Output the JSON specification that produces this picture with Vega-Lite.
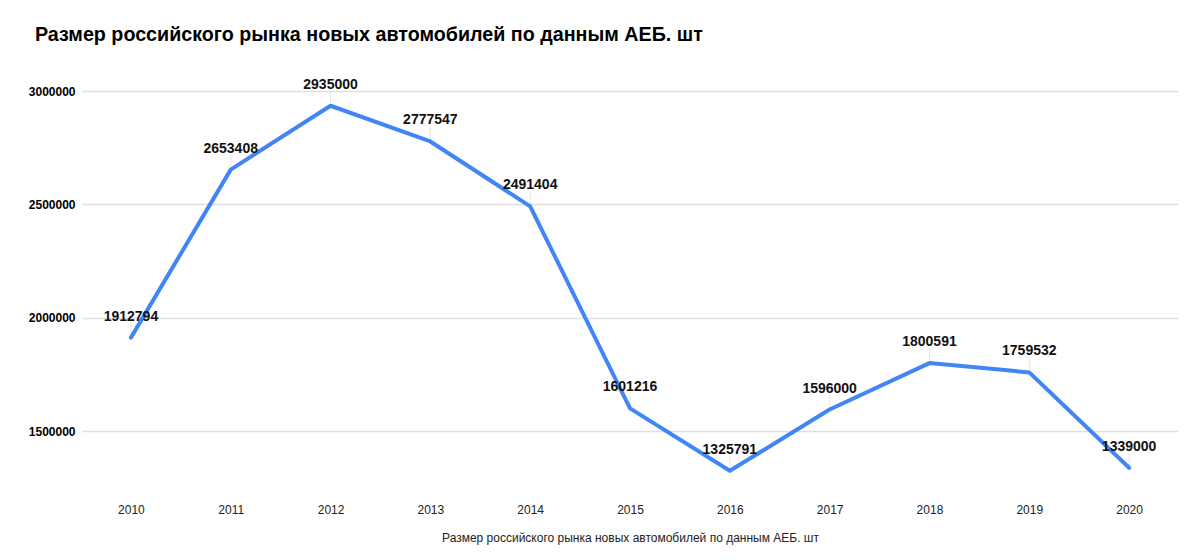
{
  "$schema": "https://vega.github.io/schema/vega-lite/v6.json",
  "autosize": "none",
  "width": 1096,
  "height": 397,
  "padding": {"left": 82, "top": 91, "right": 22, "bottom": 72},
  "background": "white",
  "config": {
    "font": "Liberation Sans",
    "view": {"stroke": null}
  },
  "title": {
    "text": "Размер российского рынка новых автомобилей по данным АЕБ. шт",
    "anchor": "start",
    "frame": "group",
    "baseline": "alphabetic",
    "offset": 17,
    "dx": -47,
    "fontSize": 19.7,
    "fontWeight": "bold",
    "color": "#000000"
  },
  "data": {
    "values": [
      {"year": "2010", "value": 1912794},
      {"year": "2011", "value": 2653408},
      {"year": "2012", "value": 2935000},
      {"year": "2013", "value": 2777547},
      {"year": "2014", "value": 2491404},
      {"year": "2015", "value": 1601216},
      {"year": "2016", "value": 1325791},
      {"year": "2017", "value": 1596000},
      {"year": "2018", "value": 1800591},
      {"year": "2019", "value": 1759532},
      {"year": "2020", "value": 1339000}
    ]
  },
  "encoding": {
    "x": {
      "field": "year",
      "type": "ordinal",
      "scale": {"type": "point", "padding": 0.49},
      "axis": {
        "title": "Размер российского рынка новых автомобилей по данным АЕБ. шт",
        "titleFontSize": 12,
        "titleFontWeight": "normal",
        "titleColor": "#222222",
        "titlePadding": 17,
        "labelAngle": 0,
        "labelFontSize": 12,
        "labelColor": "#222222",
        "labelPadding": 16,
        "domain": false,
        "ticks": false,
        "grid": false
      }
    },
    "y": {
      "field": "value",
      "type": "quantitative",
      "scale": {"domain": [1250000, 3000000], "nice": false, "zero": false},
      "axis": {
        "title": null,
        "values": [1500000, 2000000, 2500000, 3000000],
        "format": "d",
        "labelFontSize": 12,
        "labelFontWeight": "bold",
        "labelColor": "#000000",
        "labelPadding": 7,
        "domain": false,
        "ticks": false,
        "gridColor": "#e0e0e0",
        "gridWidth": 1.5
      }
    }
  },
  "layer": [
    {
      "mark": {"type": "rule", "color": "#e6e6e6", "strokeWidth": 1, "y2Offset": -15},
      "encoding": {"y2": {"field": "value"}}
    },
    {
      "mark": {"type": "line", "color": "#4285f4", "strokeWidth": 4, "strokeJoin": "round", "strokeCap": "round"}
    },
    {
      "mark": {"type": "text", "dy": -21, "fontSize": 14, "fontWeight": "bold", "color": "#111111"},
      "encoding": {"text": {"field": "value", "type": "quantitative", "format": "d"}}
    }
  ]
}
